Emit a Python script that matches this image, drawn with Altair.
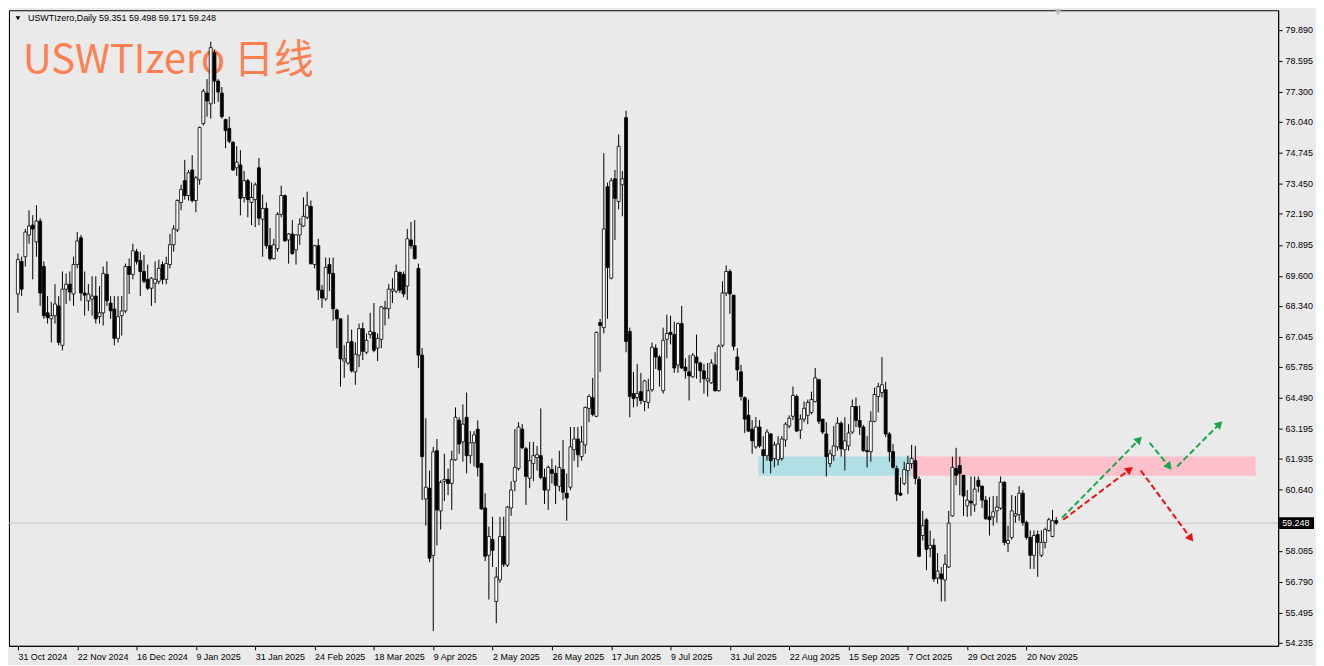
import math
import altair as alt
import pandas as pd

# ---------------- data ----------------
opens = [
    68.84, 70.20, 70.40, 71.31, 71.72, 71.02, 71.89, 69.99, 68.05, 67.80,
    67.93, 68.34, 66.69, 69.04, 69.25, 68.84, 70.07, 71.19, 68.88, 68.55,
    68.63, 68.75, 67.89, 68.05, 69.66, 68.46, 68.21, 66.98, 67.93, 68.13,
    69.99, 69.66, 70.61, 70.24, 69.78, 69.45, 69.08, 69.29, 69.37, 70.07,
    69.45, 70.07, 70.90, 71.52, 72.67, 73.58, 72.96, 74.03, 72.75, 73.62,
    75.97, 77.25, 76.80, 78.94, 77.75, 77.25, 76.14, 75.77, 75.19, 74.12,
    74.24, 72.88, 73.58, 72.67, 72.79, 74.12, 71.97, 72.42, 70.86, 70.32,
    70.73, 72.17, 72.96, 71.10, 71.35, 70.69, 71.31, 71.68, 72.05, 72.50,
    70.07, 70.86, 69.00, 68.63, 70.07, 69.70, 68.17, 67.80, 66.03, 65.95,
    66.85, 65.58, 66.28, 67.39, 66.40, 67.14, 67.23, 66.57, 66.94, 68.22,
    68.22, 68.96, 68.96, 69.74, 69.66, 69.17, 71.10, 70.86, 69.91, 66.28,
    60.26, 60.71, 57.90, 62.28, 59.76, 61.00, 61.08, 60.91, 61.90, 63.55,
    62.65, 63.68, 62.07, 62.61, 63.18, 61.74, 59.88, 57.90, 58.56, 55.97,
    56.87, 58.69, 57.49, 59.88, 61.00, 61.53, 63.18, 62.36, 61.12, 61.74,
    61.99, 62.07, 61.16, 60.63, 61.49, 61.33, 60.79, 61.49, 60.50, 60.75,
    62.32, 62.77, 62.03, 62.52, 64.05, 64.50, 63.72, 67.64, 67.43, 73.33,
    69.50, 73.66, 72.71, 73.41, 76.22, 67.27, 64.67, 64.50, 64.75, 64.34,
    64.30, 64.83, 66.57, 66.20, 64.79, 66.94, 67.23, 67.14, 65.87, 67.60,
    65.78, 65.58, 65.37, 66.20, 65.95, 65.62, 65.20, 65.12, 65.87, 64.79,
    66.69, 68.88, 69.78, 68.79, 66.20, 65.58, 64.50, 63.76, 63.18, 62.44,
    63.27, 62.32, 62.07, 62.98, 61.95, 61.90, 61.95, 62.73, 63.31, 63.72,
    64.55, 63.14, 63.60, 63.76, 63.88, 64.34, 65.25, 63.60, 62.98, 61.74,
    62.07, 62.44, 63.43, 62.32, 62.48, 63.06, 64.13, 63.55, 63.27, 62.28,
    62.24, 63.51, 64.55, 64.71, 64.83, 62.98, 62.24, 61.53, 60.50, 60.91,
    61.45, 61.74, 61.86, 61.08, 58.73, 59.39, 58.19, 58.32, 56.95, 57.12,
    56.87, 57.41, 59.55, 61.53, 61.66, 61.25, 59.97, 60.17, 60.01, 61.04,
    60.79, 60.21, 59.51, 59.51, 59.76, 59.88, 60.96, 58.40, 58.65, 59.55,
    59.60, 60.50, 59.27, 58.65, 57.90, 58.77, 57.90, 58.44, 58.94, 58.69,
    59.351,
]
highs = [
    70.53, 70.40, 71.56, 72.34, 72.14, 72.55, 72.01, 70.20, 68.75, 68.51,
    69.25, 68.75, 69.78, 69.70, 69.78, 70.40, 71.43, 71.31, 69.78, 69.25,
    69.58, 69.58, 69.17, 69.99, 70.20, 68.75, 68.75, 68.75, 68.75, 70.11,
    70.32, 70.94, 70.73, 70.61, 70.48, 70.07, 69.55, 70.20, 70.28, 70.20,
    70.40, 71.35, 71.72, 72.80, 73.41, 74.45, 74.03, 74.65, 73.78, 75.85,
    77.42, 77.83, 79.40, 79.07, 77.83, 77.50, 76.18, 76.26, 75.23, 75.02,
    74.86, 73.99, 73.66, 73.50, 73.50, 74.53, 73.00, 72.67, 71.60, 71.15,
    72.26, 73.37, 73.00, 71.39, 71.93, 71.35, 72.01, 72.88, 73.12, 72.75,
    70.90, 71.15, 69.21, 70.36, 70.36, 70.36, 68.22, 67.82, 66.69, 67.97,
    67.35, 66.81, 67.60, 67.64, 67.19, 68.05, 68.46, 67.19, 68.34, 68.55,
    69.25, 69.50, 70.07, 69.78, 69.78, 71.56, 71.85, 71.93, 70.11, 66.57,
    63.64, 61.45, 62.44, 62.77, 61.04, 62.15, 61.53, 62.28, 64.09, 63.68,
    64.22, 64.71, 63.10, 63.10, 63.55, 61.78, 60.50, 59.10, 59.51, 57.41,
    59.51, 59.51, 59.97, 61.00, 63.18, 63.47, 63.39, 62.44, 62.65, 62.65,
    62.48, 64.05, 61.53, 61.66, 61.95, 61.66, 62.28, 62.73, 61.33, 63.27,
    63.27, 63.27, 63.31, 64.13, 64.63, 65.33, 67.27, 67.80, 74.73, 73.50,
    73.70, 74.03, 75.52, 73.99, 76.51, 67.43, 65.58, 65.91, 65.54, 65.25,
    65.29, 66.81, 66.73, 66.28, 67.43, 67.97, 67.93, 67.68, 67.64, 68.34,
    66.15, 66.28, 66.36, 67.14, 66.00, 65.91, 65.95, 66.11, 66.40, 66.73,
    69.37, 70.03, 69.87, 68.80, 66.57, 65.87, 64.55, 64.42, 63.56, 63.68,
    63.56, 62.89, 63.18, 63.02, 62.65, 62.89, 62.89, 63.47, 63.76, 64.96,
    64.63, 63.80, 64.34, 64.42, 64.75, 65.74, 65.29, 63.60, 63.47, 62.32,
    63.31, 63.68, 63.51, 63.68, 63.39, 64.42, 64.50, 64.17, 63.35, 62.89,
    63.93, 64.92, 65.12, 66.20, 65.16, 63.06, 62.56, 61.66, 61.16, 61.82,
    62.07, 62.52, 62.48, 61.20, 59.76, 59.47, 58.94, 58.60, 57.99, 57.41,
    57.94, 59.76, 62.03, 62.40, 62.03, 61.27, 60.63, 61.20, 61.20, 61.20,
    60.83, 60.38, 60.34, 60.38, 60.38, 61.20, 61.00, 59.14, 60.42, 60.38,
    60.79, 60.63, 59.35, 58.94, 58.94, 58.94, 58.94, 59.06, 59.47, 59.80,
    59.498,
]
lows = [
    68.05, 68.75, 69.99, 70.94, 69.45, 70.40, 68.34, 67.80, 67.60, 66.81,
    67.60, 66.69, 66.48, 68.42, 68.55, 68.34, 69.91, 68.55, 67.93, 68.13,
    67.93, 67.60, 67.60, 67.52, 68.34, 67.80, 66.69, 66.81, 67.10, 68.05,
    68.84, 69.45, 70.07, 68.75, 69.29, 69.00, 68.34, 68.46, 69.25, 69.25,
    69.25, 69.91, 70.61, 71.43, 72.34, 72.79, 72.75, 72.67, 72.26, 73.41,
    75.89, 76.26, 76.18, 76.80, 76.88, 76.18, 74.94, 75.15, 73.99, 73.78,
    72.13, 72.67, 72.05, 71.72, 71.64, 71.72, 70.40, 70.73, 70.24, 70.28,
    70.61, 72.05, 71.02, 70.11, 70.48, 70.07, 70.90, 71.64, 71.97, 70.07,
    69.91, 68.59, 68.26, 68.55, 68.96, 67.72, 66.57, 64.96, 65.33, 65.87,
    65.55, 65.04, 65.78, 66.07, 66.32, 66.98, 66.40, 66.03, 66.57, 67.52,
    67.80, 68.46, 68.88, 68.88, 68.71, 68.59, 70.73, 70.28, 65.74, 60.21,
    59.14, 57.61, 54.73, 58.32, 58.98, 60.17, 60.42, 59.80, 61.86, 62.15,
    61.82, 61.33, 61.74, 61.62, 61.20, 59.80, 57.66, 56.05, 57.41, 55.06,
    56.75, 57.41, 57.41, 59.55, 60.58, 61.45, 62.36, 60.01, 60.71, 61.00,
    61.45, 61.08, 60.05, 59.80, 60.91, 60.05, 60.58, 60.21, 59.35, 60.63,
    61.86, 61.58, 61.86, 62.15, 63.47, 63.72, 63.68, 65.58, 67.19, 67.80,
    69.45, 71.10, 72.38, 72.09, 66.40, 63.68, 64.09, 64.13, 64.22, 63.93,
    64.05, 64.75, 65.70, 64.96, 64.67, 66.15, 66.73, 65.54, 65.54, 65.70,
    65.29, 64.38, 65.33, 65.29, 65.12, 64.67, 64.55, 65.08, 64.75, 64.75,
    66.61, 68.75, 68.01, 66.48, 65.20, 64.38, 63.02, 63.06, 62.15, 62.36,
    62.40, 61.33, 61.86, 61.33, 61.58, 61.66, 61.86, 62.44, 63.22, 63.56,
    63.06, 62.77, 63.47, 63.39, 63.80, 64.30, 63.39, 62.98, 61.20, 61.58,
    61.86, 62.28, 62.03, 61.45, 62.28, 62.98, 63.27, 62.94, 62.24, 61.58,
    61.82, 63.47, 63.88, 64.50, 62.85, 61.82, 61.53, 60.17, 60.38, 60.83,
    60.46, 61.53, 60.87, 57.82, 58.52, 57.28, 57.82, 56.79, 56.71, 55.97,
    55.97, 57.37, 59.51, 60.83, 60.42, 59.55, 59.51, 59.55, 59.72, 60.54,
    59.88, 59.39, 58.73, 59.14, 59.27, 59.80, 58.32, 58.03, 58.56, 59.27,
    59.35, 59.14, 58.56, 57.33, 57.33, 57.00, 57.82, 58.19, 58.89, 58.65,
    59.171,
]
closes = [
    70.28, 69.04, 71.43, 71.68, 71.56, 71.89, 68.88, 67.93, 67.85, 67.93,
    68.42, 66.81, 69.04, 69.25, 68.92, 70.07, 71.06, 68.88, 68.79, 68.84,
    68.75, 67.80, 68.05, 69.70, 68.55, 68.13, 66.98, 67.89, 68.13, 69.99,
    69.66, 70.65, 70.20, 69.78, 69.37, 69.08, 69.50, 69.45, 69.91, 69.45,
    70.11, 70.90, 71.56, 72.75, 73.21, 72.96, 73.91, 72.75, 73.70, 75.81,
    77.33, 76.92, 79.15, 77.75, 77.29, 76.26, 75.68, 75.23, 74.03, 74.36,
    72.84, 73.58, 72.79, 72.88, 73.41, 72.01, 72.42, 70.86, 70.32, 70.90,
    72.17, 72.96, 71.06, 71.35, 70.53, 71.31, 71.76, 72.09, 72.55, 70.11,
    70.86, 69.00, 68.67, 69.95, 69.70, 68.22, 67.80, 66.12, 66.12, 66.81,
    65.62, 66.32, 67.39, 66.44, 66.90, 67.27, 66.48, 66.98, 68.30, 68.26,
    69.04, 69.04, 69.78, 69.00, 68.84, 71.15, 70.86, 70.32, 66.28, 62.03,
    60.75, 57.78, 62.23, 59.80, 60.96, 61.08, 60.91, 61.90, 63.68, 62.56,
    63.39, 62.07, 62.61, 62.94, 61.58, 59.84, 57.86, 58.69, 58.11, 56.99,
    58.69, 57.53, 59.92, 60.63, 61.58, 63.27, 62.40, 61.20, 61.86, 62.07,
    62.11, 61.16, 60.63, 61.58, 61.33, 60.83, 61.58, 60.54, 60.30, 62.44,
    62.77, 62.11, 62.65, 64.09, 64.55, 63.80, 67.23, 67.52, 71.56, 69.95,
    73.58, 72.84, 75.02, 73.66, 66.85, 64.55, 64.46, 64.67, 64.38, 65.20,
    64.79, 66.61, 66.20, 65.66, 66.90, 67.19, 67.14, 65.74, 67.60, 65.74,
    65.62, 65.41, 66.28, 65.95, 65.62, 65.29, 65.29, 65.95, 64.79, 66.65,
    68.88, 69.78, 68.84, 66.65, 65.66, 64.55, 63.60, 63.10, 62.69, 63.27,
    62.48, 62.07, 63.06, 61.86, 62.52, 62.56, 62.77, 63.39, 63.64, 64.59,
    63.10, 63.60, 64.05, 64.30, 64.42, 65.33, 63.51, 63.06, 62.03, 62.15,
    62.48, 63.43, 62.36, 62.69, 63.02, 64.13, 63.55, 63.27, 62.28, 62.24,
    63.51, 64.63, 64.96, 65.04, 62.98, 62.24, 61.58, 60.46, 60.42, 61.49,
    61.74, 61.95, 61.12, 57.86, 59.14, 58.15, 58.32, 56.91, 57.24, 56.91,
    57.53, 59.25, 61.58, 61.25, 61.33, 60.38, 60.21, 60.09, 60.67, 60.79,
    60.21, 59.43, 59.39, 59.72, 59.92, 60.96, 58.44, 58.52, 59.76, 59.64,
    60.50, 59.27, 58.65, 57.90, 58.73, 58.44, 58.44, 58.98, 59.39, 59.35,
    59.248,
]

date_labels = [
    "31 Oct 2024", "22 Nov 2024", "16 Dec 2024", "9 Jan 2025", "31 Jan 2025",
    "24 Feb 2025", "18 Mar 2025", "9 Apr 2025", "2 May 2025", "26 May 2025",
    "17 Jun 2025", "9 Jul 2025", "31 Jul 2025", "22 Aug 2025", "15 Sep 2025",
    "7 Oct 2025", "29 Oct 2025", "20 Nov 2025",
]
label_step = 16  # bars between date labels

price_ticks = [79.890, 78.595, 77.300, 76.040, 74.745, 73.450, 72.190, 70.895,
               69.600, 68.340, 67.045, 65.785, 64.490, 63.195, 61.935, 60.640,
               58.085, 56.790, 55.495, 54.235]

# support / resistance zones (bar index range, price range)
zone_kind = ["support", "resistance"]
zone_start = [199.7, 240.8]
zone_end = [240.8, 333.8]
zone_low = [61.235, 61.235]
zone_high = [62.04, 62.04]

# projected path arrows (bar index, price)
arrow_kind = ["bull", "bull", "bull", "bear", "bear"]
arrow_x0 = [281.6, 305.2, 312.6, 281.9, 302.8]
arrow_y0 = [59.47, 62.61, 61.62, 59.39, 61.45]
arrow_x1 = [303.3, 311.3, 325.0, 300.9, 317.1]
arrow_y1 = [62.90, 61.45, 63.55, 61.62, 58.44]

symbol = "USWTIzero"
timeframe = "Daily"
big_title = "USWTIzero 日线"

# ---------------- layout ----------------
W, H = 1274, 638
X_DOM = [-1.06, 338.5]
Y_DOM = [54.112, 80.715]
px_x = W / (X_DOM[1] - X_DOM[0])
px_y = H / (Y_DOM[1] - Y_DOM[0])
FONT = "Liberation Sans"
ZONE_COLORS = {"support": "#b0e0e6", "resistance": "#ffc0cb"}
ARROW_COLORS = {"bull": "#16a84a", "bear": "#ee1111"}

n = len(opens)
df = pd.DataFrame({"i": list(range(n)), "o": opens, "h": highs, "l": lows, "c": closes})
df["wick_top"] = df[["o", "c", "h"]].max(axis=1)
df["wick_bot"] = df[["o", "c", "l"]].min(axis=1)
df["dir"] = ["up" if c >= o else "down" for o, c in zip(opens, closes)]

label_expr = "[" + ",".join("'%s'" % d for d in date_labels) + "][round(datum.value / %d)]" % label_step
x_scale = alt.Scale(domain=X_DOM, nice=False, zero=False)
y_scale = alt.Scale(domain=Y_DOM, nice=False, zero=False)
x_axis = alt.Axis(values=[k * label_step for k in range(len(date_labels))], labelExpr=label_expr,
                  title=None, grid=False, labelAlign="left", labelPadding=3, tickSize=4,
                  labelFlush=False, labelOverlap=False, domainColor="#000000", tickColor="#000000",
                  labelColor="#000000", labelFont=FONT, labelFontSize=9)
y_axis = alt.Axis(values=price_ticks, format=".3f", orient="right", title=None, grid=False,
                  tickSize=4, labelPadding=3, labelFlush=False, labelOverlap=False,
                  domainColor="#000000", tickColor="#000000", labelColor="#000000",
                  labelFont=FONT, labelFontSize=9)


def X(field):
    return alt.X(field, type="quantitative", scale=x_scale, axis=x_axis)


def Y(field):
    return alt.Y(field, type="quantitative", scale=y_scale, axis=y_axis)


base = alt.Chart(df)

# big orange caption (behind candles)
caption = alt.Chart(pd.DataFrame({"t": [big_title]})).mark_text(
    align="left", baseline="alphabetic", font="Noto Sans CJK SC", fontSize=40, color="#FF7F50"
).encode(x=alt.value(14), y=alt.value(63), text="t:N")

# zones
zdf = pd.DataFrame({"kind": zone_kind, "x0": zone_start, "x1": zone_end, "y0": zone_low, "y1": zone_high})
zone_layers = [
    alt.Chart(zdf).transform_filter(alt.datum.kind == k).mark_rect(color=col, opacity=1).encode(
        x=X("x0"), x2="x1", y=Y("y0"), y2="y1")
    for k, col in ZONE_COLORS.items()
]

# current price line
last = closes[-1]
pdf = pd.DataFrame({"p": [last]})
price_line = alt.Chart(pdf).mark_rule(color="#c4c4c4", strokeWidth=1).encode(y=Y("p"))

wicks = base.mark_rule(color="#000000", strokeWidth=1).encode(x=X("i"), y=Y("wick_bot"), y2="wick_top")
bull_bodies = base.transform_filter(alt.datum.dir == "up").mark_bar(
    size=3, fill="#ffffff", stroke="#000000", strokeWidth=0.8, orient="vertical"
).encode(x=X("i"), y=Y("o"), y2="c")
bear_bodies = base.transform_filter(alt.datum.dir == "down").mark_bar(
    size=3, fill="#000000", stroke="#000000", strokeWidth=0.8, orient="vertical"
).encode(x=X("i"), y=Y("o"), y2="c")

# arrows
adf = pd.DataFrame({"kind": arrow_kind, "x0": arrow_x0, "y0": arrow_y0, "x1": arrow_x1, "y1": arrow_y1})
angles, cx, cy, lx, ly = [], [], [], [], []
for a in adf.itertuples():
    dx = (a.x1 - a.x0) * px_x
    dy = -(a.y1 - a.y0) * px_y
    L = math.hypot(dx, dy)
    ux, uy = dx / L, dy / L
    angles.append(math.degrees(math.atan2(dx, -dy)) % 360)
    back = 5.0
    cx.append(a.x1 - ux * back / px_x)
    cy.append(a.y1 + uy * back / px_y)
    lx.append(a.x1 - ux * 8.0 / px_x)
    ly.append(a.y1 + uy * 8.0 / px_y)
adf["angle"] = angles
adf["cx"] = cx
adf["cy"] = cy
adf["lx1"] = lx
adf["ly1"] = ly
arrow_layers = []
for k, col in ARROW_COLORS.items():
    arrow_layers.append(
        alt.Chart(adf).transform_filter(alt.datum.kind == k).mark_rule(
            color=col, strokeWidth=2, strokeDash=[6, 3]
        ).encode(x=X("x0"), x2="lx1", y=Y("y0"), y2="ly1")
    )
    arrow_layers.append(
        alt.Chart(adf).transform_filter(alt.datum.kind == k).mark_point(
            shape="triangle-up", filled=True, size=80, opacity=1, color=col
        ).encode(x=X("cx"), y=Y("cy"), angle=alt.Angle("angle:Q", scale=None))
    )

# top-left info
info_text = "%s,%s  %.3f %.3f %.3f %.3f" % (symbol, timeframe, opens[-1], highs[-1], lows[-1], closes[-1])
info = alt.Chart(pd.DataFrame({"t": [info_text]})).mark_text(
    align="left", baseline="middle", font=FONT, fontSize=9, color="#000000"
).encode(x=alt.value(19), y=alt.value(8), text="t:N")
info_tri = alt.Chart(pd.DataFrame({"t": [0]})).mark_point(
    shape="triangle-down", filled=True, size=22, color="#000000", opacity=1
).encode(x=alt.value(9), y=alt.value(8))

# chart shift marker
shift = alt.Chart(pd.DataFrame({"i": [n - 0.5]})).mark_point(
    shape="triangle-down", filled=True, size=45, color="#b4b4b4", opacity=1
).encode(x=X("i"), y=alt.value(2))

# price box on the axis
half = 6.0 / px_y
bdf = pd.DataFrame({"p": [last], "top": [last + half], "bot": [last - half], "t": ["%.3f" % last]})
price_box = alt.Chart(bdf).mark_rect(color="#000000").encode(
    x=alt.value(W + 1), x2=alt.value(W + 36), y=Y("top"), y2="bot")
price_txt = alt.Chart(bdf).mark_text(align="left", baseline="middle", font=FONT, fontSize=9, color="#ffffff").encode(
    x=alt.value(W + 4), y=Y("p"), text="t:N")

chart = alt.layer(
    caption, *zone_layers, price_line, wicks, bull_bodies, bear_bodies, *arrow_layers,
    info_tri, info, shift, price_box, price_txt,
).properties(
    width=W, height=H, background="#eaeaea", padding={"left": 0, "top": 0, "right": 2, "bottom": 2}
).configure_view(stroke="#000000", strokeWidth=1, fill="#eaeaea")

chart.save("out.html", embed_options={"renderer": "svg", "actions": False})
